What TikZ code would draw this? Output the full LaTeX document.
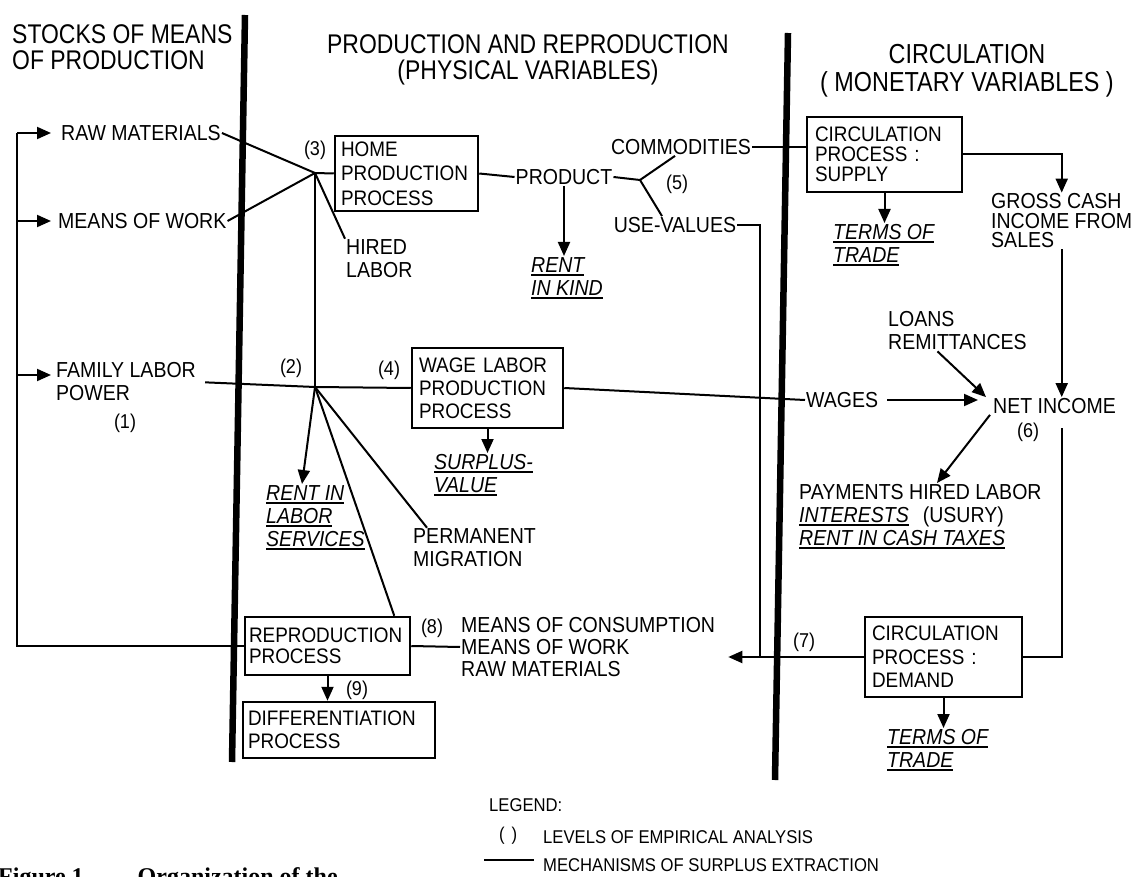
\documentclass[tikz,border=0pt]{standalone}
\usepackage{fontspec}
\setmainfont{Liberation Sans}[FakeStretch=0.9]
\newfontfamily\hdfont{Liberation Sans}[FakeStretch=0.85]
\newfontfamily\capfont{Liberation Serif}
\usetikzlibrary{arrows.meta,calc}
\newcommand\myul[1]{\setbox0\hbox{#1}\leavevmode\rlap{\rule[-3.5pt]{\wd0}{1.4pt}}\box0}
\tikzset{
  lbl/.style={inner sep=1pt, font=\fontsize{21.7}{23}\selectfont, align=left},
  num/.style={inner sep=0pt, font=\fontsize{20}{20}\selectfont},
  box/.style={draw, line width=2.5pt, inner xsep=6pt, inner ysep=0pt, align=left,
              font=\fontsize{21}{23}\selectfont},
  ln/.style={line width=2pt},
  arr/.style={line width=2pt, -{Triangle[length=14pt,width=12pt]}},
  hdr/.style={inner sep=0pt, font=\hdfont\fontsize{27}{26}\selectfont},
  wall/.style={line width=6.5pt},
  leg/.style={inner sep=1pt, font=\fontsize{18.5}{20}\selectfont}
}
\begin{document}
\begin{tikzpicture}[x=1pt,y=-1pt]
\useasboundingbox (0,0) rectangle (1135,877);
\fill[white] (0,0) rectangle (1135,877);

% column separators
\coordinate (w1t) at (245,15);  \coordinate (w1b) at (232,762);
\coordinate (w2t) at (788,33);  \coordinate (w2b) at (775,780);
\draw[wall] (w1t) -- (w1b);
\draw[wall] (w2t) -- (w2b);

% headers
\node[hdr, anchor=west, align=left] (hstock) at (12,47) {STOCKS OF MEANS\\OF PRODUCTION};
\node[hdr, align=center] (hprod) at (528,60) {PRODUCTION AND REPRODUCTION\\(PHYSICAL VARIABLES)};
\node[hdr, align=center, font=\hdfont\fontsize{27.5}{28}\selectfont] (hcirc) at (967,71) {CIRCULATION\\( MONETARY VARIABLES )};

% boxes
\node[box, minimum width=143pt, minimum height=75pt, text width=131pt] (home) at (406.5,173.5) {HOME\\[1.5pt]PRODUCTION\\[1.5pt]PROCESS};
\node[box, minimum width=155pt, minimum height=75pt, text width=139pt, font=\fontsize{21}{20}\selectfont, inner xsep=8pt] (supply) at (884.5,154.5) {CIRCULATION\\PROCESS :\\SUPPLY};
\node[box, minimum width=151pt, minimum height=80pt, text width=137pt, inner xsep=7pt] (wage) at (487.5,388) {WAGE LABOR\\PRODUCTION\\PROCESS};
\node[box, minimum width=165pt, minimum height=58pt, text width=157pt, inner xsep=4pt, font=\fontsize{21}{21}\selectfont] (repro) at (327.5,646) {REPRODUCTION\\PROCESS};
\node[box, minimum width=192pt, minimum height=56pt, text width=182pt, inner xsep=5pt] (diff) at (339,730) {DIFFERENTIATION\\PROCESS};
\node[box, minimum width=157pt, minimum height=80pt, text width=143pt, inner xsep=7pt, font=\fontsize{21}{23.5}\selectfont] (demand) at (943.5,657) {CIRCULATION\\PROCESS :\\DEMAND};

% text labels
\node[lbl, anchor=west] (rawm) at (60,133) {RAW MATERIALS};
\node[lbl, anchor=west] (mow) at (57,221) {MEANS OF WORK};
\node[lbl, anchor=west] (flp) at (55,382) {FAMILY LABOR\\POWER};
\node[lbl, anchor=west] (hired) at (345,259) {HIRED\\LABOR};
\node[lbl] (product) at (564,177) {PRODUCT};
\node[lbl] (commod) at (681,147) {COMMODITIES};
\node[lbl] (usev) at (675,225) {USE-VALUES};
\node[lbl, anchor=north west] (rentk) at (530,256) {\myul{\itshape RENT}\\\myul{\itshape IN KIND}};
\node[lbl, anchor=north west] (surplus) at (433,453) {\myul{\itshape SURPLUS-}\\\myul{\itshape VALUE}};
\node[lbl, anchor=north west] (rentl) at (265,484) {\myul{\itshape RENT IN}\\\myul{\itshape LABOR}\\\myul{\itshape SERVICES}};
\node[lbl, anchor=west] (perm) at (412,548) {PERMANENT\\MIGRATION};
\node[lbl, anchor=west, font=\fontsize{21.7}{22}\selectfont] (mcons) at (460,647) {MEANS OF CONSUMPTION\\MEANS OF WORK\\RAW MATERIALS};
\node[lbl, anchor=north west] (terms1) at (832,223) {\myul{\itshape TERMS OF}\\\myul{\itshape TRADE}};
\node[lbl, anchor=west, font=\fontsize{21.7}{19.5}\selectfont] (gross) at (990,221) {GROSS CASH\\INCOME FROM\\SALES};
\node[lbl, anchor=west] (loans) at (887,331) {LOANS\\REMITTANCES};
\node[lbl, anchor=west] (wages) at (805,400) {WAGES};
\node[lbl, anchor=west] (netinc) at (992,406) {NET INCOME};
\node[lbl, anchor=north west] (pay) at (798,483) {PAYMENTS HIRED LABOR\\\myul{\itshape INTERESTS}\hspace{14pt}(USURY)\\\myul{\itshape RENT IN CASH TAXES}};
\node[lbl, anchor=north west] (terms2) at (886,728) {\myul{\itshape TERMS OF}\\\myul{\itshape TRADE}};

% level numbers
\node[num] (n1) at (125,423) {(1)};
\node[num] (n2) at (291,368) {(2)};
\node[num] (n3) at (315,150) {(3)};
\node[num] (n4) at (389,370) {(4)};
\node[num] (n5) at (677,184) {(5)};
\node[num] (n6) at (1028,432) {(6)};
\node[num] (n7) at (804,642) {(7)};
\node[num] (n8) at (432,628) {(8)};
\node[num] (n9) at (357,690) {(9)};

% junctions
\coordinate (J3) at (315,173);
\coordinate (J2) at (315,387);
\coordinate (F) at (640,180);
\coordinate (lx) at (17,0);
\coordinate (uvj) at (760,657);
\coordinate (nd) at (gross.south |- 0,428);

% left loop
\draw[ln] (repro.west) -- (repro.west -| lx) -- (rawm.west -| lx);
\draw[arr, shorten >=9pt] (rawm.west -| lx) -- (rawm.west);
\draw[arr, shorten >=6pt] (mow.west -| lx) -- (mow.west);
\draw[arr, shorten >=4pt] ([yshift=7pt]flp.west -| lx) -- ([yshift=7pt]flp.west);

% home production
\draw[ln] (rawm.east) -- (J3);
\draw[ln] (mow.east) -- (J3);
\draw[ln] (J3) -- (home.west);
\draw[ln] (J3) -- (hired.north west);
\draw[ln] (J3) -- (J2);
\draw[ln] (home.east) -- (product.west);
\draw[ln] (product.east) -- (F);
\draw[ln] (F) -- ([xshift=-6pt]commod.south);
\draw[ln] (F) -- ([xshift=-13pt]usev.north);
\draw[arr] (product.south) -- (product.south |- rentk.north);
\draw[ln] (commod.east) -- (commod.east -| supply.west);
\draw[ln] (usev.east) -| (uvj);

% labor
\draw[ln, shorten <=8pt] (flp.east) -- (J2);
\draw[ln] (J2) -- (wage.west);
\draw[arr] (J2) -- ([xshift=37pt]rentl.north west);
\draw[ln] (J2) -- ([xshift=15pt]perm.north west);
\draw[ln] (J2) -- ([xshift=-17pt]repro.north east);
\draw[arr] (wage.south) -- (wage.south |- surplus.north);
\draw[ln] (wage.east) -- (wages.west);

% circulation
\draw[arr] (supply.south) -- (supply.south |- terms1.north);
\draw[arr] (supply.east) -| (gross.north);
\draw[arr] (gross.south) -- (gross.south |- netinc.north);
\draw[arr, shorten <=8pt, shorten >=14pt] (wages.east) -- (wages.east -| netinc.west);
\draw[arr] ([xshift=-20pt]loans.south) -- ([xshift=-6pt]netinc.north west);
\draw[arr] ([xshift=-2pt]netinc.south west) -- ([xshift=139pt]pay.north west);
\draw[ln] (nd) |- (demand.east);
\draw[arr, shorten >=12pt] (demand.west) -- (demand.west -| mcons.east);
\draw[arr] (demand.south) -- (demand.south |- terms2.north);

% reproduction
\draw[ln] (repro.east) -- (mcons.west);
\draw[arr] (repro.south) -- (repro.south |- diff.north);

% legend
\node[leg, anchor=west] (legend) at (488,805) {LEGEND:};
\node[leg, anchor=west] (lpar) at (498,836) {(\hspace{7pt})};
\node[leg, anchor=west] (llev) at (542,837) {LEVELS OF EMPIRICAL ANALYSIS};
\node[leg, anchor=west] (lmech) at (542,865) {MECHANISMS OF SURPLUS EXTRACTION};
\coordinate (lg1) at (484,860); \coordinate (lg2) at (534,860);
\draw[ln] (lg1) -- (lg2);

% caption (cut by the page edge, as in the reference)
\node[anchor=base west, inner sep=0pt, font=\capfont\bfseries\fontsize{24}{24}\selectfont] (cap) at (-2,884) {Figure 1.\enspace—\enspace Organization of the};
\end{tikzpicture}
\end{document}
